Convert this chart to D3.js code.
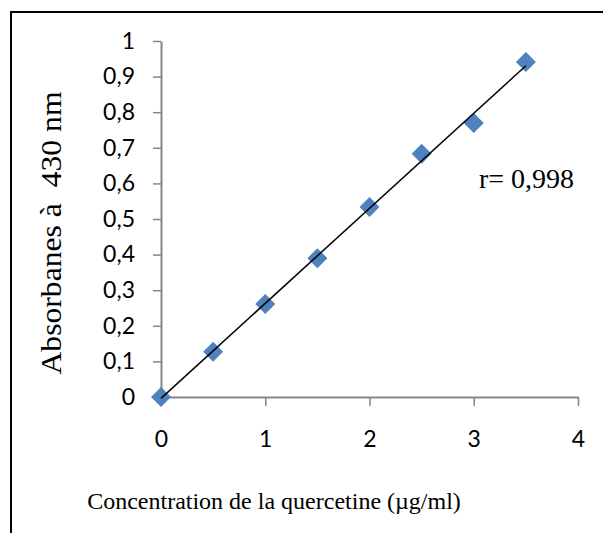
<!DOCTYPE html>
<html>
<head>
<meta charset="utf-8">
<script src="https://cdn.jsdelivr.net/npm/d3@7"></script>
<style>
  body { margin: 0; background: #fff; }
  svg { display: block; }
</style>
</head>
<body>
<div id="chart"></div>
<script>
// quercetine concentration (µg/ml) and absorbance at 430 nm
const concentrations = [0, 0.5, 1, 1.5, 2, 2.5, 3, 3.5];
const absorbances = [0, 0.127, 0.261, 0.39, 0.534, 0.683, 0.77, 0.941];
const xTicks = [0, 1, 2, 3, 4];
const yTicks = [0, 0.1, 0.2, 0.3, 0.4, 0.5, 0.6, 0.7, 0.8, 0.9, 1];
const rLabel = 'r= 0,998';

const W = 603, H = 533;
const svg = d3.select('#chart').append('svg')
  .attr('width', W)
  .attr('height', H);

// frame (only top and left edges fall inside the picture)
svg.append('rect')
  .attr('x', 11).attr('y', 12)
  .attr('width', W + 20).attr('height', H + 20)
  .attr('fill', 'none')
  .attr('stroke', '#000')
  .attr('stroke-width', 2);

const x = d3.scaleLinear().domain([0, 4]).range([161, 578]);
const y = d3.scaleLinear().domain([0, 1]).range([397, 41]);

const fmt = d => d3.format('.1~f')(d).replace('.', ',');

// y axis
const gy = svg.append('g')
  .attr('transform', 'translate(' + x(0) + ',0)')
  .call(d3.axisLeft(y).tickValues(yTicks).tickFormat(fmt).tickSize(8).tickPadding(18).tickSizeOuter(0));

// x axis
const gx = svg.append('g')
  .attr('transform', 'translate(0,' + y(0) + ')')
  .call(d3.axisBottom(x).tickValues(xTicks).tickFormat(d3.format('d')).tickSize(9).tickPadding(25).tickSizeOuter(0));

[gx, gy].forEach(g => {
  g.select('.domain').attr('stroke', '#868686').attr('stroke-width', 2);
  g.selectAll('.tick line').attr('stroke', '#868686').attr('stroke-width', 1.5);
  g.selectAll('.tick text')
    .attr('fill', '#000')
    .style('font-family', 'Lato, "Open Sans", sans-serif')
    .style('font-size', '23px');
});

// points
const pts = concentrations.map((c, i) => ({ x: c, y: absorbances[i] }));

svg.append('g').selectAll('path')
  .data(pts)
  .enter().append('path')
  .attr('d', d3.symbol(d3.symbolSquare, 200))
  .attr('transform', d => 'translate(' + x(d.x) + ',' + y(d.y) + ') rotate(45)')
  .attr('fill', '#4F81BD');

// least squares trend line
const mx = d3.mean(pts, d => d.x), my = d3.mean(pts, d => d.y);
const slope = d3.sum(pts, d => (d.x - mx) * (d.y - my)) / d3.sum(pts, d => (d.x - mx) ** 2);
const icpt = my - slope * mx;
const x0 = d3.min(concentrations), x1 = d3.max(concentrations);

svg.append('line')
  .attr('x1', x(x0)).attr('y1', y(slope * x0 + icpt))
  .attr('x2', x(x1)).attr('y2', y(slope * x1 + icpt))
  .attr('stroke', '#000')
  .attr('stroke-width', 1.5);

// texts
svg.append('text')
  .attr('x', 479).attr('y', 188)
  .style('font-family', '"Liberation Serif", "Times New Roman", serif')
  .style('font-size', '28px')
  .text(rLabel);

svg.append('text')
  .attr('x', 274).attr('y', 509)
  .attr('text-anchor', 'middle')
  .style('font-family', '"Liberation Serif", "Times New Roman", serif')
  .style('font-size', '24px')
  .text('Concentration de la quercetine (µg/ml)');

svg.append('text')
  .attr('transform', 'translate(61,233) rotate(-90)')
  .attr('text-anchor', 'middle')
  .attr('textLength', 283)
  .attr('lengthAdjust', 'spacingAndGlyphs')
  .style('font-family', '"Liberation Serif", "Times New Roman", serif')
  .style('font-size', '29px')
  .style('white-space', 'pre')
  .text('Absorbanes à  430 nm');
</script>
</body>
</html>
